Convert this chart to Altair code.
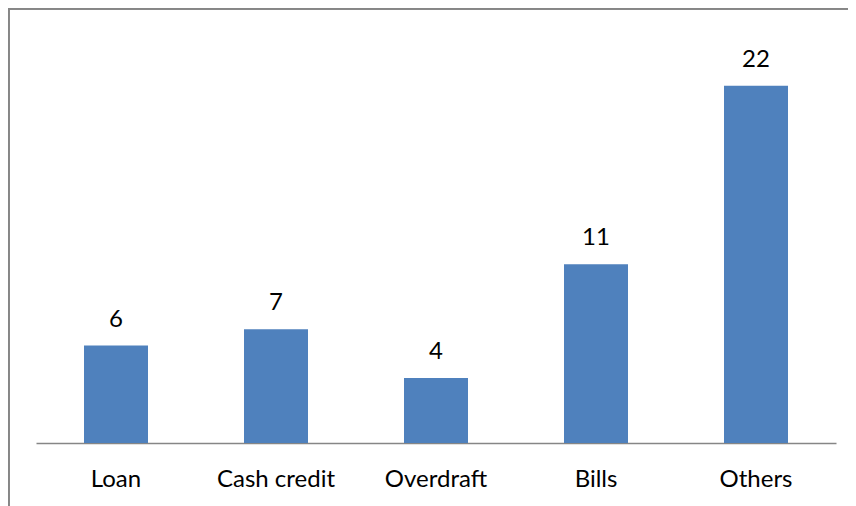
import altair as alt
import pandas as pd

categories = ["Loan", "Cash credit", "Overdraft", "Bills", "Others"]
values = [6, 7, 4, 11, 22]

df = pd.DataFrame({"category": categories, "value": values})

FONT = "Lato"
FS = 24

x = alt.X("category:N", sort=categories, title=None,
          scale=alt.Scale(paddingInner=0.6, paddingOuter=0.3),
          axis=alt.Axis(labelAngle=0, labelFont=FONT, labelFontSize=FS,
                        labelColor="#000000", labelBaseline="alphabetic",
                        labelPadding=43, ticks=False, tickSize=0,
                        domainColor="#868686", domainWidth=1.5, grid=False))
y = alt.Y("value:Q", title=None, scale=alt.Scale(domain=[0, 25], nice=False),
          axis=None)

bars = alt.Chart(df).mark_bar(color="#4F81BD").encode(x=x, y=y)
text = alt.Chart(df).mark_text(font=FONT, fontSize=FS, color="#000000",
                               baseline="alphabetic", dy=-19).encode(
    x=alt.X("category:N", sort=categories),
    y="value:Q", text="value:Q")

frame_top = alt.Chart(df).mark_rule(color="#868686", strokeWidth=2).encode(
    x=alt.value(-28), x2=alt.value(830), y=alt.value(-28.5))
frame_left = alt.Chart(df).mark_rule(color="#868686", strokeWidth=2).encode(
    x=alt.value(-27.5), y=alt.value(-29), y2=alt.value(520))

chart = alt.layer(bars, text, frame_top, frame_left).properties(
    width=800, height=406,
    autosize=alt.AutoSizeParams(type="none"),
    padding={"left": 28, "top": 29, "right": 12, "bottom": 63},
).configure_view(stroke=None)

chart.save("out.html", embed_options={"renderer": "svg", "actions": False})
